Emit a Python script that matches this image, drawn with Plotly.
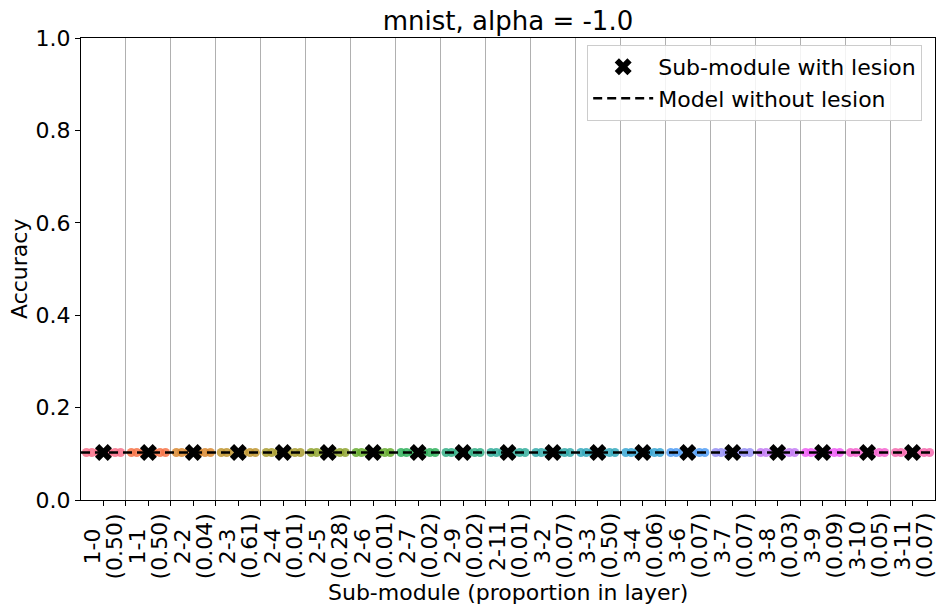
import math
import plotly.graph_objects as go

# Daten
submodules = ["1-0", "1-1", "2-2", "2-3", "2-4", "2-5", "2-6", "2-7", "2-9", "2-11",
              "3-2", "3-3", "3-4", "3-6", "3-7", "3-8", "3-9", "3-10", "3-11"]
proportions = [0.50, 0.50, 0.04, 0.61, 0.01, 0.28, 0.01, 0.02, 0.02, 0.01,
               0.07, 0.50, 0.06, 0.07, 0.07, 0.03, 0.09, 0.05, 0.07]
lesion_acc = [0.1028, 0.1028, 0.1028, 0.1028, 0.1028, 0.1028, 0.1028, 0.1028, 0.1028, 0.1028,
              0.1028, 0.1028, 0.1028, 0.1028, 0.1028, 0.1028, 0.1028, 0.1028, 0.1028]
# einzelne Läufe pro Sub-Modul (alle gleich)
run_acc = [0.1028, 0.1028, 0.1028, 0.1028, 0.1028, 0.1028]
baseline_acc = 0.1028

title = "mnist, alpha = -1.0"

# Streuung der Punkte innerhalb einer Kategorie
jitter = [-0.38, -0.26, -0.12, 0.12, 0.26, 0.38]


# husl-Palette wie bei seaborn
M = [[3.2406, -1.5372, -0.4986], [-0.9689, 1.8758, 0.0415], [0.0557, -0.2040, 1.0570]]


def max_chroma(L, H):
    hrad = math.radians(H)
    sinH, cosH = math.sin(hrad), math.cos(hrad)
    sub1 = (L + 16) ** 3 / 1560896.0
    sub2 = sub1 if sub1 > 0.008856 else L / 903.3
    result = float("inf")
    for m1, m2, m3 in M:
        top = (0.99915 * m1 + 1.05122 * m2 + 1.14460 * m3) * sub2
        rbottom = 0.86330 * m3 - 0.17266 * m2
        lbottom = 0.12949 * m3 - 0.38848 * m1
        bottom = (rbottom * sinH + lbottom * cosH) * sub2
        for t in (0.0, 1.0):
            C = L * (top - 1.05122 * t) / (bottom + 0.17266 * sinH * t)
            if 0.0 < C < result:
                result = C
    return result


def husl_to_hex(H, S, L):
    C = max_chroma(L, H) / 100.0 * S
    U = math.cos(math.radians(H)) * C
    V = math.sin(math.radians(H)) * C
    t = (L + 16.0) / 116.0
    Y = t ** 3 if t ** 3 > 0.008856 else (116.0 * t - 16.0) / 903.3
    varU = U / (13.0 * L) + 0.19784
    varV = V / (13.0 * L) + 0.46834
    X = 0.0 - (9.0 * Y * varU) / ((varU - 4.0) * varV - varU * varV)
    Z = (9.0 * Y - 15.0 * varV * Y - varV * X) / (3.0 * varV)
    rgb = []
    for row in M:
        c = row[0] * X + row[1] * Y + row[2] * Z
        c = 12.92 * c if c <= 0.0031308 else 1.055 * c ** (1 / 2.4) - 0.055
        rgb.append(int(round(min(max(c, 0), 1) * 255)))
    return "#%02x%02x%02x" % tuple(rgb)


n = len(submodules)
colors = [husl_to_hex(((i / n + 0.01) % 1) * 359, 0.9 * 99, 0.65 * 99) for i in range(n)]
xs = list(range(n))

fig = go.Figure()

# Punkte pro Sub-Modul
for i in xs:
    fig.add_trace(go.Scatter(
        x=[i + j for j in jitter], y=run_acc, mode="markers",
        marker=dict(color=colors[i], size=9, opacity=0.85),
        showlegend=False, hoverinfo="skip"))

# Modell ohne Läsion
fig.add_trace(go.Scatter(
    x=[-0.5, n - 0.5], y=[baseline_acc, baseline_acc], mode="lines",
    line=dict(color="black", width=2.5, dash="9px,5px"),
    name="Model without lesion", legendrank=2))

# Sub-Modul mit Läsion
fig.add_trace(go.Scatter(
    x=xs, y=lesion_acc, mode="markers",
    marker=dict(symbol="x", color="black", size=15, line=dict(width=0)),
    name="Sub-module with lesion", legendrank=1))

# Achsenbeschriftung x: zwei zentrierte Zeilen, um 90° gedreht
annotations = []
for i, (s, p) in enumerate(zip(submodules, proportions)):
    for text, shift in ((s, -11), (f"({p:.2f})", 11)):
        annotations.append(dict(
            x=i, y=0, xref="x", yref="paper", text=text, textangle=-90,
            showarrow=False, xanchor="center", yanchor="middle",
            xshift=shift, yshift=-46, font=dict(size=22)))

annotations.append(dict(
    x=0.5, y=0, xref="paper", yref="paper", text="Sub-module (proportion in layer)",
    showarrow=False, xanchor="center", yanchor="middle", yshift=-92, font=dict(size=22)))
annotations.append(dict(
    x=0, y=0.5, xref="paper", yref="paper", text="Accuracy", textangle=-90,
    showarrow=False, xanchor="center", yanchor="middle", xshift=-62, font=dict(size=22)))

font = "DejaVu Sans, sans-serif"
fig.update_layout(
    width=943, height=612,
    margin=dict(l=81, r=8, t=38, b=112, autoexpand=False),
    plot_bgcolor="white", paper_bgcolor="white",
    font=dict(family=font, size=22, color="black"),
    title=dict(text=title, x=0.5, xref="paper", y=1 - 21 / 612, yref="container",
               xanchor="center", yanchor="middle", font=dict(size=26)),
    legend=dict(x=0.985, y=0.985, xanchor="right", yanchor="top",
                bgcolor="rgba(255,255,255,0.85)", bordercolor="#cccccc", borderwidth=1,
                font=dict(size=22), traceorder="normal", itemwidth=60),
    showlegend=True,
    annotations=annotations,
)

fig.update_xaxes(
    range=[-0.5, n - 0.5], tickmode="array", tickvals=xs, showticklabels=False,
    ticks="outside", ticklen=5, tickcolor="black", automargin=False,
    showgrid=False, showline=True, linecolor="black", mirror=True, zeroline=False,
    minor=dict(tickmode="array", tickvals=[i + 0.5 for i in range(n - 1)],
               showgrid=True, gridcolor="#b0b0b0", gridwidth=1,
               ticks="outside", ticklen=5, tickcolor="black"),
)
fig.update_yaxes(
    range=[0, 1], tickmode="linear", tick0=0, dtick=0.2, tickformat=".1f",
    ticks="outside", ticklen=5, tickcolor="black", automargin=False,
    showgrid=False, showline=True, linecolor="black", mirror=True, zeroline=False,
)

# Seitenrand entfernen, damit die Grafik das Fenster genau füllt
fig.write_html("out.html", config={"displayModeBar": False},
               post_script="document.body.style.margin = '0';")
